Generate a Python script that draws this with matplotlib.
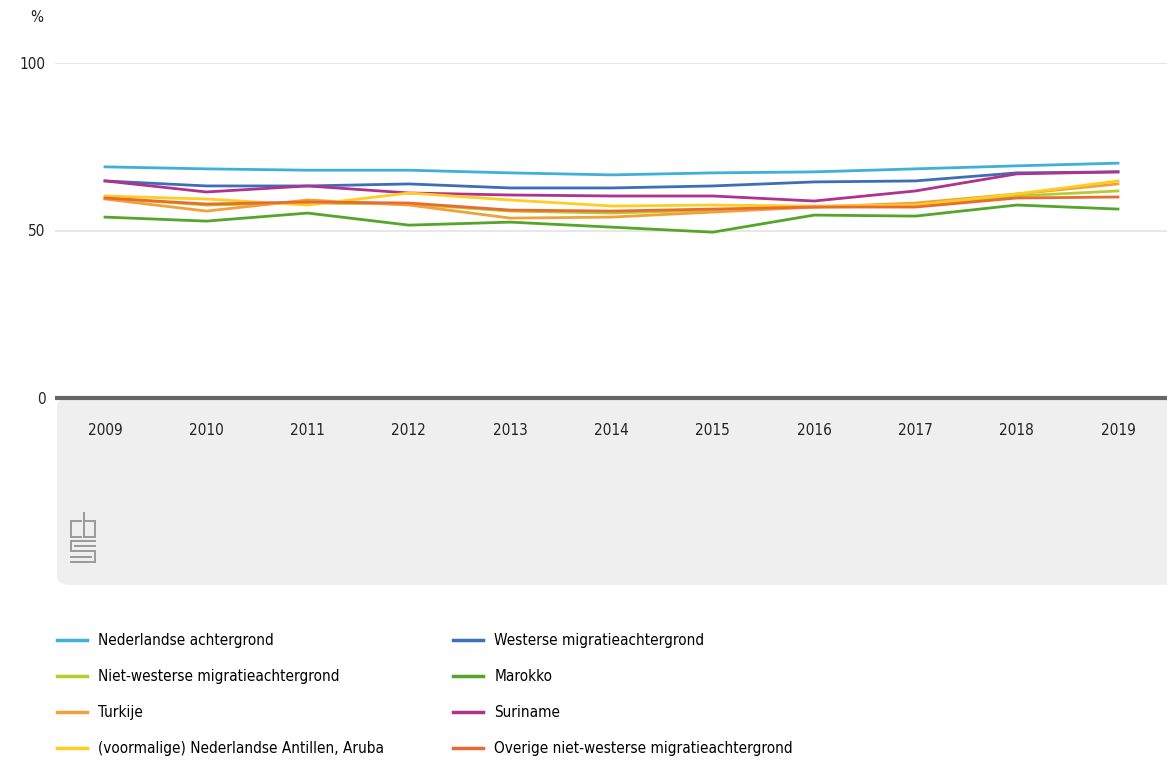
import matplotlib
matplotlib.use("Agg")
import matplotlib.pyplot as plt
from matplotlib.patches import FancyBboxPatch
from matplotlib.lines import Line2D

plt.rcParams['font.family'] = ['DejaVu Sans']
plt.rcParams['font.stretch'] = 'condensed'

# data
years = [2009, 2010, 2011, 2012, 2013, 2014, 2015, 2016, 2017, 2018, 2019]
nederlands = [69.0, 68.4, 68.0, 68.0, 67.2, 66.6, 67.2, 67.5, 68.4, 69.3, 70.1]
westers = [64.8, 63.3, 63.3, 63.9, 62.7, 62.7, 63.3, 64.5, 64.8, 67.2, 67.5]
niet_westers = [59.7, 57.6, 58.2, 57.9, 55.8, 55.2, 56.1, 57.0, 57.3, 60.3, 61.8]
marokko = [54.0, 52.8, 55.2, 51.6, 52.5, 51.0, 49.5, 54.6, 54.3, 57.6, 56.4]
turkije = [59.4, 55.8, 59.1, 57.6, 53.7, 54.0, 55.5, 57.0, 58.2, 60.9, 63.9]
suriname = [64.8, 61.5, 63.3, 61.2, 60.6, 60.3, 60.3, 58.8, 61.8, 66.9, 67.5]
antillen = [60.3, 59.4, 57.6, 61.2, 59.1, 57.3, 57.6, 57.3, 57.6, 60.9, 64.8]
overig = [59.7, 57.9, 58.5, 58.2, 56.1, 55.8, 56.4, 57.0, 57.0, 59.7, 60.0]

labels = ['Nederlandse achtergrond', 'Westerse migratieachtergrond',
          'Niet-westerse migratieachtergrond', 'Marokko',
          'Turkije', 'Suriname',
          '(voormalige) Nederlandse Antillen, Aruba',
          'Overige niet-westerse migratieachtergrond']
series = [nederlands, westers, niet_westers, marokko, turkije, suriname, antillen, overig]
colors = ['#3fb0d9', '#3b6fb6', '#b5cc2e', '#55a52a', '#f2a03a', '#b0318e', '#ffcc22', '#ea6b31']

W, H = 1167, 771
fig = plt.figure(figsize=(W / 100, H / 100), dpi=100)

# gray panel under the axis
panel = FancyBboxPatch((57 / W, 1 - 585 / H), (W + 20) / W, (585 - 398) / H,
                       boxstyle="round,pad=0,rounding_size=0.012",
                       transform=fig.transFigure, facecolor='#efefef',
                       edgecolor='none', zorder=-5)
fig.patches.append(panel)

ax = fig.add_axes([55 / W, 1 - 398 / H, (W - 55) / W, (398 - 63) / H])
ax.set_zorder(2)
ax.set_facecolor('none')
for i in range(len(series)):
    ax.plot(years, series[i], color=colors[i], lw=2, solid_joinstyle='round')

ax.set_ylim(0, 100)
ax.set_xlim(2009 - 50 / 101.3, 2019 + 49 / 101.3)
for s in ['top', 'right', 'left']:
    ax.spines[s].set_visible(False)
ax.spines['bottom'].set_color('#666666')
ax.spines['bottom'].set_linewidth(3)
ax.spines['bottom'].set_capstyle('butt')
ax.set_yticks([0, 50, 100])
ax.yaxis.grid(True, color='#e3e3e3', lw=1.2)
ax.set_axisbelow(True)
ax.tick_params(axis='y', length=0, pad=7, labelsize=11, colors='#222222')
ax.tick_params(axis='x', length=0, pad=18, labelsize=11, colors='#222222')
ax.set_xticks(years)
ax.set_xticklabels([str(y) for y in years])
fig.text(30 / W, 1 - 17 / H, '%', fontsize=11, color='#222222', va='center')

# cbs logo, rough line drawing
logo_color = '#9a9a9a'
lx, ly = 71, 513
segs = [
    [(0, 8), (10, 8)], [(0, 8), (0, 24)], [(0, 24), (10, 24)],
    [(13, 0), (13, 24)], [(13, 8), (24, 8)], [(24, 8), (24, 24)], [(13, 24), (24, 24)],
    [(0, 28), (24, 28)], [(0, 28), (0, 38)], [(0, 38), (24, 38)], [(24, 38), (24, 49)],
    [(0, 49), (24, 49)], [(4, 33), (24, 33)], [(0, 44), (20, 44)],
]
for (x0, y0), (x1, y1) in segs:
    fig.add_artist(Line2D([(lx + x0) / W, (lx + x1) / W],
                          [1 - (ly + y0) / H, 1 - (ly + y1) / H],
                          color=logo_color, lw=1.4))

# legend, row-major order like the reference
order = [0, 2, 4, 6, 1, 3, 5, 7]
handles = [Line2D([], [], color=colors[i], lw=2.5) for i in order]
fig.legend(handles, [labels[i] for i in order], ncol=2, loc='upper left',
           bbox_to_anchor=(57 / W, 1 - 633 / H), frameon=False,
           fontsize=11, handlelength=1.95, handletextpad=0.75,
           columnspacing=4.5, labelspacing=1.38, borderpad=0, borderaxespad=0)

fig.savefig('out.png', dpi=100)
